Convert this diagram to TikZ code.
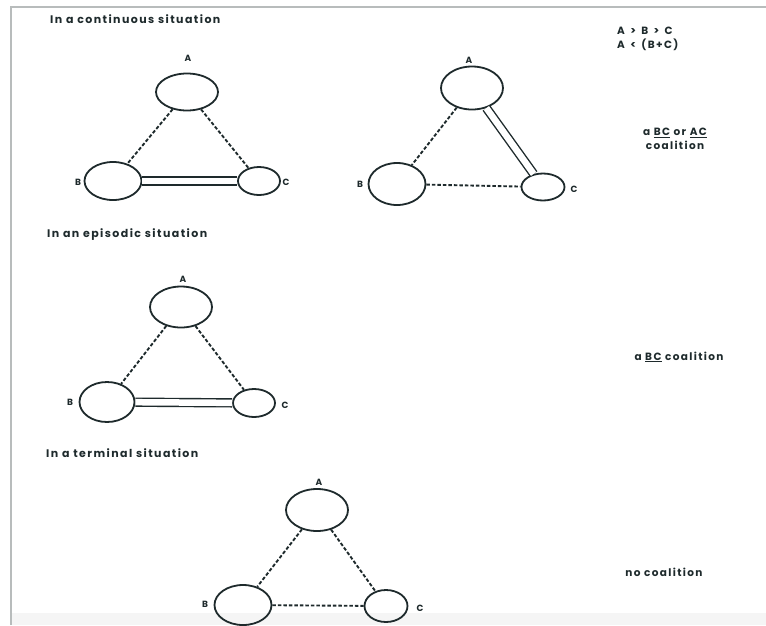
\documentclass[tikz,border=0pt]{standalone}
\usepackage{fontspec}
\setmainfont{Poppins}
\newfontfamily\txtfont[LetterSpace=13]{Poppins}
\usetikzlibrary{shapes.geometric}
\definecolor{ink}{HTML}{1E2A2C}
\definecolor{frame}{HTML}{B8BCBC}
\tikzset{
  ell/.style={ellipse, draw=ink, line width=1.8pt, inner sep=0pt},
  lbl/.style={font=\fontsize{9}{9}\selectfont\bfseries, text=ink, inner sep=0pt},
  ttl/.style={font=\txtfont\fontsize{11}{14}\selectfont\bfseries, text=ink, inner sep=0pt, anchor=west},
  note/.style={font=\txtfont\fontsize{10.5}{14}\selectfont\bfseries, text=ink, inner sep=0pt, align=center},
  dsh/.style={draw=ink, line width=1.9pt, dash pattern=on 3.5pt off 2pt},
  dbl/.style={draw=ink, line width=1.4pt, double=white, double distance=6.5pt},
}
\begin{document}
\begin{tikzpicture}[x=1pt,y=-1pt]
\useasboundingbox (0,0) rectangle (766,625);
\fill[white] (0,0) rectangle (766,625);
\fill[black!4] (11,613) rectangle (766,625);
\draw[frame, line width=1.2pt] (11,625) -- (11,7) -- (766,7);

% titles
\node[ttl] (t1) at (50,19) {In a continuous situation};
\node[ttl] (t2) at (47,235) {In an episodic situation};
\node[ttl] (t3) at (46,453) {In a terminal situation};

% right notes
\node[note, anchor=west, align=left] (n1) at (617,39) {A \,>\, B \,>\, C\\A \,<\, (B+C)};
\node[note] (n2) at (675,139) {a \underline{BC} or \underline{AC}\\coalition};
\node[note] (n3) at (679,357) {a \underline{BC} coalition};
\node[note] (n4) at (664,572) {no coalition};

% diagram 1: continuous
\node[ell, minimum width=62pt, minimum height=37pt] (a1) at (187,92) {};
\node[ell, minimum width=57pt, minimum height=38pt] (b1) at (113,181) {};
\node[ell, minimum width=42pt, minimum height=28pt] (c1) at (259,181) {};
\node[lbl] (la1) at (188,58) {A};
\node[lbl] (lb1) at (78,182) {B};
\node[lbl] (lc1) at (286,182) {C};
\draw[dsh] (a1) -- (b1);
\draw[dsh] (a1) -- (c1);
\draw[dbl] (b1) -- (c1);

% diagram 2: continuous, alternative
\node[ell, minimum width=62pt, minimum height=43pt] (a2) at (472,88) {};
\node[ell, minimum width=57pt, minimum height=42pt] (b2) at (397,184) {};
\node[ell, minimum width=43pt, minimum height=27pt] (c2) at (543,187) {};
\node[lbl] (la2) at (469,60) {A};
\node[lbl] (lb2) at (360,184) {B};
\node[lbl] (lc2) at (574,189) {C};
\draw[dsh] (a2) -- (b2);
\draw[dsh] (b2) -- (c2);
\draw[dbl] (a2) -- (c2);

% diagram 3: episodic
\node[ell, minimum width=62pt, minimum height=41pt] (a3) at (181,307) {};
\node[ell, minimum width=55pt, minimum height=40pt] (b3) at (107,402) {};
\node[ell, minimum width=42pt, minimum height=28pt] (c3) at (254,403) {};
\node[lbl] (la3) at (183,279) {A};
\node[lbl] (lb3) at (70,402) {B};
\node[lbl] (lc3) at (285,405) {C};
\draw[dsh] (a3) -- (b3);
\draw[dsh] (a3) -- (c3);
\draw[dbl] (b3) -- (c3);

% diagram 4: terminal
\node[ell, minimum width=62pt, minimum height=42pt] (a4) at (317,510) {};
\node[ell, minimum width=57pt, minimum height=40pt] (b4) at (243,605) {};
\node[ell, minimum width=43pt, minimum height=32pt] (c4) at (386,606) {};
\node[lbl] (la4) at (319,482) {A};
\node[lbl] (lb4) at (205,604) {B};
\node[lbl] (lc4) at (420,608) {C};
\draw[dsh] (a4) -- (b4);
\draw[dsh] (a4) -- (c4);
\draw[dsh] (b4) -- (c4);
\end{tikzpicture}
\end{document}
